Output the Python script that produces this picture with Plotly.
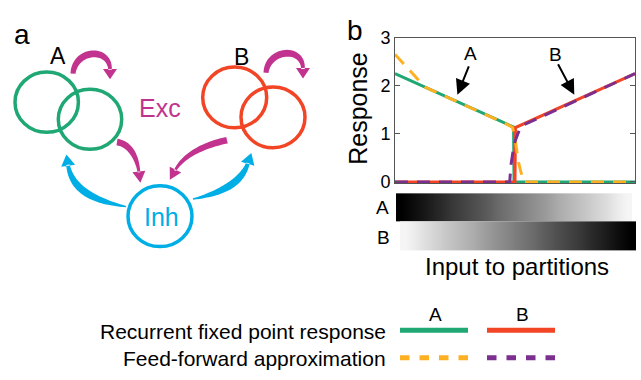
import math
import numpy as np
import plotly.graph_objects as go

# ---------------- data ----------------
# panel b: response vs. input (x = input position, 0 = all input to A, 1 = all to B)
rec_A_x = [0.0, 0.494, 0.496, 1.0]
rec_A_y = [2.25, 1.14, 0.0, 0.0]
rec_B_x = [0.0, 0.500, 0.502, 1.0]
rec_B_y = [0.0, 0.0, 1.13, 2.25]
ff_A_x = [0.0, 0.125, 0.47, 0.49, 0.50, 0.515, 0.535, 1.0]
ff_A_y = [2.65, 1.97, 1.19, 1.13, 0.90, 0.40, 0.0, 0.0]
ff_B_x = [0.0, 0.478, 0.483, 0.497, 0.512, 0.525, 1.0]
ff_B_y = [0.0, 0.0, 0.35, 0.80, 1.00, 1.16, 2.25]
y_ticks = [0, 1, 2, 3]
y_ticklabels = ["0", "1", "2", "3"]
# gradient bars: input strength to each partition
input_A = [1.00, 0.96, 0.92, 0.88, 0.84, 0.79, 0.75, 0.71, 0.67, 0.63, 0.58, 0.54,
           0.50, 0.46, 0.42, 0.38, 0.33, 0.29, 0.25, 0.21, 0.17, 0.13, 0.08, 0.04]
input_B = input_A[::-1]

GREEN = "#1fa774"
RED = "#f24526"
ORANGE = "#fdb022"
PURPLE = "#7b2f8e"
MAGENTA = "#c1338e"
CYAN = "#00aee6"
FONT = "Liberation Sans, Arial, sans-serif"

W, H = 641, 380
fig = go.Figure()

# ---------------- panel b main plot ----------------
dash_pat = "13px,9px"
fig.add_trace(go.Scatter(x=rec_A_x, y=rec_A_y, mode="lines",
                         line=dict(color=GREEN, width=3), showlegend=False))
fig.add_trace(go.Scatter(x=rec_B_x, y=rec_B_y, mode="lines",
                         line=dict(color=RED, width=3), showlegend=False))
fig.add_trace(go.Scatter(x=ff_A_x, y=ff_A_y, mode="lines",
                         line=dict(color=ORANGE, width=3, dash=dash_pat), showlegend=False))
fig.add_trace(go.Scatter(x=ff_B_x, y=ff_B_y, mode="lines",
                         line=dict(color=PURPLE, width=3, dash=dash_pat), showlegend=False))

# ---------------- gradient bars (pixel overlay axis) ----------------
nA = len(input_A)
fig.add_trace(go.Heatmap(z=[input_A], x=list(np.linspace(396, 632, nA + 1)), y=[193, 222.5],
                         colorscale=[[0, "white"], [1, "black"]], zmin=0, zmax=1,
                         zsmooth="best", showscale=False, xaxis="x3", yaxis="y3",
                         hoverinfo="skip"))
fig.add_trace(go.Heatmap(z=[input_B], x=list(np.linspace(400, 636, nA + 1)), y=[222.5, 253],
                         colorscale=[[0, "white"], [1, "black"]], zmin=0, zmax=1,
                         zsmooth="best", showscale=False, xaxis="x3", yaxis="y3",
                         hoverinfo="skip"))

# ---------------- legend lines (pixel overlay axis) ----------------
fig.add_trace(go.Scatter(x=[400, 468], y=[337, 337], mode="lines", xaxis="x3", yaxis="y3",
                         line=dict(color=GREEN, width=5), showlegend=False, hoverinfo="skip"))
fig.add_trace(go.Scatter(x=[487, 555], y=[337, 337], mode="lines", xaxis="x3", yaxis="y3",
                         line=dict(color=RED, width=5), showlegend=False, hoverinfo="skip"))
fig.add_trace(go.Scatter(x=[400, 468], y=[366, 366], mode="lines", xaxis="x3", yaxis="y3",
                         line=dict(color=ORANGE, width=5, dash="9.5px,10px"),
                         showlegend=False, hoverinfo="skip"))
fig.add_trace(go.Scatter(x=[487, 555], y=[366, 366], mode="lines", xaxis="x3", yaxis="y3",
                         line=dict(color=PURPLE, width=5, dash="9.5px,10px"),
                         showlegend=False, hoverinfo="skip"))

# ---------------- panel a diagram ----------------
shapes = []


def circle(cx, cy, r, color, lw=3.5):
    shapes.append(dict(type="circle", xref="x3", yref="y3", x0=cx - r, x1=cx + r,
                       y0=cy - r, y1=cy + r, line=dict(color=color, width=lw),
                       fillcolor="rgba(0,0,0,0)", layer="above"))


def bez(P, t):
    (x0, y0), (x1, y1), (x2, y2), (x3, y3) = P
    a, b, c, d = (1 - t) ** 3, 3 * (1 - t) ** 2 * t, 3 * (1 - t) * t ** 2, t ** 3
    x = a * x0 + b * x1 + c * x2 + d * x3
    y = a * y0 + b * y1 + c * y2 + d * y3
    dx = 3 * (1 - t) ** 2 * (x1 - x0) + 6 * (1 - t) * t * (x2 - x1) + 3 * t ** 2 * (x3 - x2)
    dy = 3 * (1 - t) ** 2 * (y1 - y0) + 6 * (1 - t) * t * (y2 - y1) + 3 * t ** 2 * (y3 - y2)
    n = math.hypot(dx, dy)
    return x, y, dx / n, dy / n


def arrow(P, color, w0, w1, wbump, hl, hw, n=30):
    left, right = [], []
    for i in range(n + 1):
        t = i / n
        x, y, ux, uy = bez(P, t)
        w = w0 * (1 - t) + w1 * t + wbump * math.sin(math.pi * t)
        nx, ny = -uy, ux
        left.append((x + nx * w / 2, y + ny * w / 2))
        right.append((x - nx * w / 2, y - ny * w / 2))
    pts = left + right[::-1]
    path = "M " + " L ".join(f"{px:.2f},{py:.2f}" for px, py in pts) + " Z"
    x, y, ux, uy = bez(P, 1.0)
    nx, ny = -uy, ux
    b1 = (x + nx * hw / 2 - ux * 1, y + ny * hw / 2 - uy * 1)
    b2 = (x - nx * hw / 2 - ux * 1, y - ny * hw / 2 - uy * 1)
    tip = (x + ux * hl, y + uy * hl)
    path += f" M {b1[0]:.2f},{b1[1]:.2f} L {tip[0]:.2f},{tip[1]:.2f} L {b2[0]:.2f},{b2[1]:.2f} Z"
    shapes.append(dict(type="path", xref="x3", yref="y3", path=path, fillcolor=color,
                       line=dict(width=0), layer="above"))


circle(46.7, 97, 31.7, GREEN)
circle(90, 115, 31.7, GREEN)
circle(234.7, 92, 32, RED)
circle(273, 113, 32, RED)
circle(160, 217, 32, CYAN)

# self loops
arrow([(73, 67), (75, 41), (110, 39), (110, 63)], MAGENTA, 5, 3.5, 3, 10, 14)
arrow([(266, 66), (268, 41), (303, 38), (303, 62)], MAGENTA, 5, 3.5, 3, 10, 14)
# excitatory to Inh
arrow([(117, 139), (130, 141), (137, 155), (139, 171)], MAGENTA, 7, 2.5, 1, 11, 13)
arrow([(227, 137), (205, 142), (184, 152), (175, 169)], MAGENTA, 7, 2.5, 1, 11, 13)
# inhibitory back
arrow([(126, 207), (95, 201), (72, 190), (68, 163)], CYAN, 1.5, 3.5, 5, 11, 14)
arrow([(193, 199), (225, 192), (242, 180), (248, 161)], CYAN, 1.5, 3.5, 5, 11, 14)

# ---------------- annotations ----------------
ann = []


def txt(x, y, s, size, color="black", angle=0, xanchor="center"):
    ann.append(dict(x=x, y=y, xref="x3", yref="y3", text=s, showarrow=False,
                    font=dict(family=FONT, size=size, color=color), textangle=angle,
                    xanchor=xanchor, yanchor="middle"))


txt(22, 26, "a", 28)
txt(355, 22, "b", 28)
txt(58, 48, "A", 23)
txt(241, 49, "B", 23)
txt(160, 103, "Exc", 25, MAGENTA)
txt(161, 218, "Inh", 25, CYAN)
txt(358, 104, "Response", 25, angle=-90)
txt(470, 46, "A", 19)
txt(555, 47, "B", 19)
txt(382, 208, "A", 19)
txt(383, 239, "B", 19)
txt(517, 270, "Input to partitions", 24)
txt(435, 320, "A", 19)
txt(522, 320, "B", 19)
txt(388, 338, "Recurrent fixed point response", 21, xanchor="right")
txt(388, 367, "Feed-forward approximation", 21, xanchor="right")

# arrows in panel b
ann.append(dict(x=0.26, y=1.81, xref="x", yref="y", ax=12, ay=-30, text="", showarrow=True,
                arrowhead=2, arrowsize=1.5, arrowwidth=2, arrowcolor="black"))
ann.append(dict(x=0.747, y=1.81, xref="x", yref="y", ax=-17, ay=-32, text="", showarrow=True,
                arrowhead=2, arrowsize=1.5, arrowwidth=2, arrowcolor="black"))

AX = "#555555"
fig.update_layout(
    width=W, height=H, margin=dict(l=0, r=0, t=0, b=0),
    paper_bgcolor="white", plot_bgcolor="rgba(0,0,0,0)",
    font=dict(family=FONT, color="black"),
    showlegend=False,
    xaxis=dict(domain=[395 / W, 635 / W], range=[0, 1], showline=True, mirror=True,
               linecolor=AX, linewidth=1, ticks="", showticklabels=False,
               showgrid=False, zeroline=False, fixedrange=True),
    yaxis=dict(domain=[1 - 182.5 / H, 1 - 29 / H], range=[-0.03, 3], showline=True,
               mirror="ticks", linecolor=AX, linewidth=1, ticks="inside", ticklen=5,
               tickcolor=AX, tickvals=y_ticks, ticktext=y_ticklabels,
               tickfont=dict(size=18, family=FONT, color="black"),
               showgrid=False, zeroline=False, fixedrange=True),
    xaxis3=dict(domain=[0, 1], range=[0, W], visible=False, anchor="y3", fixedrange=True),
    yaxis3=dict(domain=[0, 1], range=[H, 0], visible=False, anchor="x3", fixedrange=True),
    shapes=shapes, annotations=ann,
)

fig.write_html("out.html")
